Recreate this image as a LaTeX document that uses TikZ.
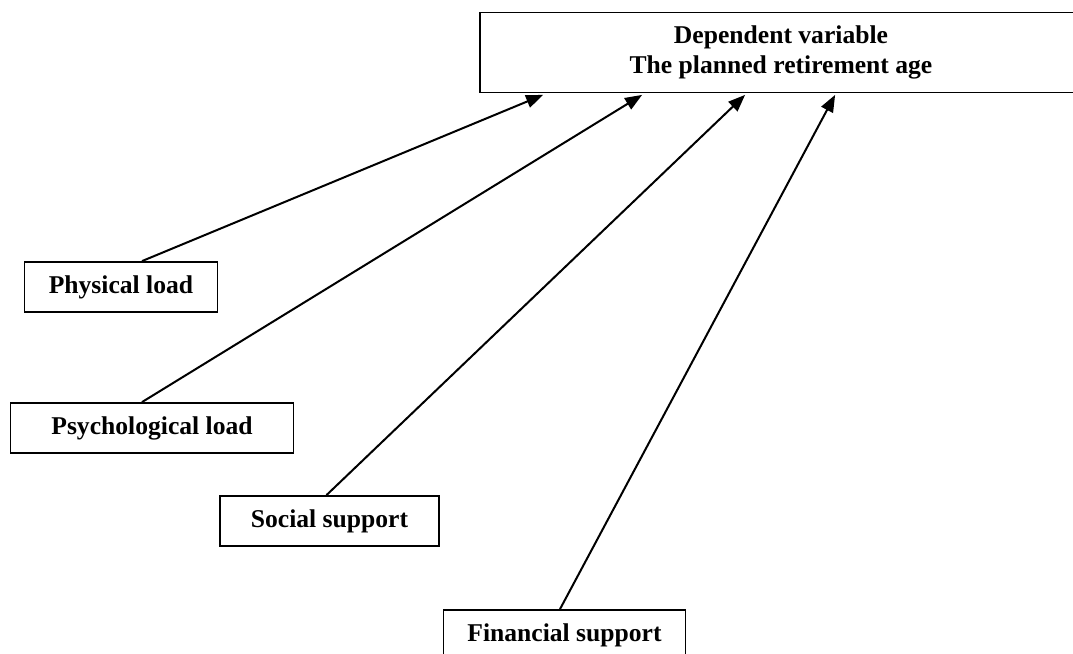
\documentclass[tikz,border=0pt]{standalone}
\usepackage{fontspec}
\setmainfont{Liberation Serif}
\usepackage{tikz}
\usetikzlibrary{shapes, positioning,arrows,arrows.meta}

\tikzset{
  varbox/.style={draw=black,line width=1.8pt,rectangle,inner sep=0pt,minimum height=50pt,
    font=\bfseries\fontsize{25.6}{30}\selectfont,align=center},
  effect/.style={line width=2pt,-{Triangle[length=17pt,width=13pt]}}
}

\begin{document}
\begin{tikzpicture}[x=1pt,y=-1pt]
\useasboundingbox (0,0) rectangle (1073,653);
\clip (0,0) rectangle (1073,653);
\node[varbox,minimum width=602pt,minimum height=80pt] (dep) at (781,52.5) {Dependent variable\\The planned retirement age};
\node[varbox,minimum width=193pt] (phys) at (121,287) {Physical load};
\node[varbox,minimum width=283pt] (psych) at (152,428) {Psychological load};
\node[varbox,minimum width=219pt] (soc) at (329.5,521) {Social support};
\node[varbox,minimum width=242pt] (fin) at (564.5,635) {Financial support};
\draw[effect] ([xshift=21pt]phys.north) -- ([xshift=64pt,yshift=-1.5pt]dep.south west);
\draw[effect] ([xshift=-10pt]psych.north) -- ([xshift=163pt,yshift=-1.5pt]dep.south west);
\draw[effect] ([xshift=-3pt]soc.north) -- ([xshift=266pt,yshift=-1.5pt]dep.south west);
\draw[effect] ([xshift=-4.5pt]fin.north) -- ([xshift=356pt,yshift=-1.5pt]dep.south west);
\end{tikzpicture}
\end{document}
